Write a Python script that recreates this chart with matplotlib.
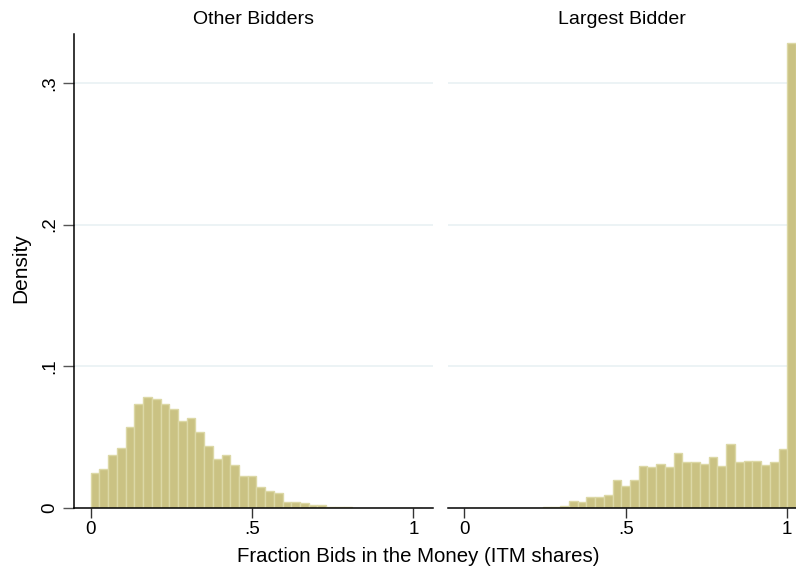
import numpy as np
import matplotlib.pyplot as plt

plt.rcParams['font.family'] = ['Liberation Sans', 'DejaVu Sans']

# histogram bins: width 1/37 starting at 0
n_bins = 38
bin_width = 1 / 37
bin_left = np.arange(n_bins) * bin_width

other_density = [
    0.0244, 0.0274, 0.0371, 0.0421, 0.0570, 0.0735, 0.0783, 0.0766, 0.0735, 0.0702,
    0.0615, 0.0634, 0.0537, 0.0435, 0.0345, 0.0371, 0.0300, 0.0229, 0.0225, 0.0147,
    0.0123, 0.0109, 0.0045, 0.0045, 0.0038, 0.0019, 0.0019, 0.0005, 0.0005, 0.0005,
    0.0, 0.0, 0.0, 0.0, 0.0, 0.0, 0.0, 0.0,
]
largest_density = [
    0.0, 0.0, 0.0, 0.0, 0.0, 0.0, 0.0, 0.0, 0.0, 0.0005,
    0.0005, 0.0014, 0.0052, 0.0045, 0.0078, 0.0078, 0.0095, 0.0196, 0.0154, 0.0196,
    0.0296, 0.0286, 0.0307, 0.0286, 0.0385, 0.0322, 0.0326, 0.0310, 0.0357, 0.0296,
    0.0449, 0.0324, 0.0331, 0.0331, 0.0303, 0.0324, 0.0416, 0.3280,
]

panel_titles = ["Other Bidders", "Largest Bidder"]
x_ticks = [0, 0.5, 1]
x_ticklabels = ["0", ".5", "1"]
y_ticks = [0, 0.1, 0.2, 0.3]
y_ticklabels = ["0", ".1", ".2", ".3"]

bar_color = "#cac283"
edge_color = "#dcd8a6"
grid_color = "#e9f1f3"

fig = plt.figure(figsize=(7.96, 5.71), dpi=100)
ax1 = fig.add_axes([74 / 796, 63 / 571, 359 / 796, 474 / 571])
ax2 = fig.add_axes([448 / 796, 63 / 571, 348 / 796, 474 / 571])

xlims = [(-0.052, 1.061), (-0.0495, 1.027)]
for ax, dens, title, xl in zip([ax1, ax2], [other_density, largest_density], panel_titles, xlims):
    ax.bar(bin_left, dens, width=bin_width, align="edge",
           color=bar_color, edgecolor=edge_color, linewidth=1, zorder=2)
    ax.set_xlim(*xl)
    ax.set_ylim(0, 0.3345)
    for yv in y_ticks[1:]:
        ax.axhline(yv, color=grid_color, linewidth=1.2, zorder=1)
    ax.set_xticks(x_ticks)
    ax.set_xticklabels(x_ticklabels, fontsize=13.5)
    ax.tick_params(axis="x", length=7, width=1, color="#333333", pad=2)
    ax.set_title(title, fontsize=14, pad=7)
    for s in ["top", "right"]:
        ax.spines[s].set_visible(False)
    ax.spines["bottom"].set_linewidth(1.1)
    ax.spines["left"].set_linewidth(1.1)

ax1.set_yticks(y_ticks)
ax1.set_yticklabels(y_ticklabels, fontsize=13.5, rotation=90, va="center")
ax1.tick_params(axis="y", length=8, width=1, color="#555555", pad=3)

ax2.spines["left"].set_visible(False)
ax2.set_yticks([])

fig.text(21 / 796, 1 - 268 / 571, "Density", rotation=90, fontsize=15,
         ha="center", va="center")
fig.text(418 / 796, 1 - 556 / 571, "Fraction Bids in the Money (ITM shares)",
         fontsize=14.7, ha="center", va="center")

fig.savefig("out.png", dpi=100)
